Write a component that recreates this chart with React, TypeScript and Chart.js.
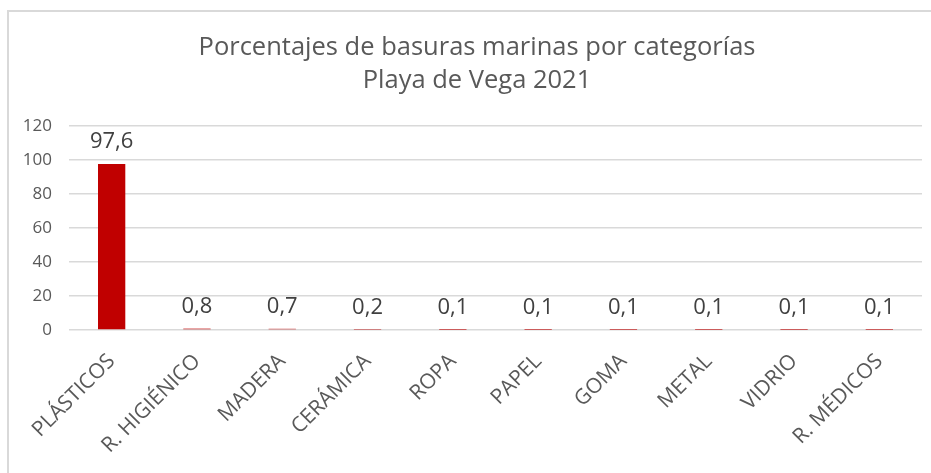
import React, { useEffect, useRef } from "react";
import { Chart, registerables } from "chart.js";

Chart.register(...registerables);

const categories = [
  "PLÁSTICOS",
  "R. HIGIÉNICO",
  "MADERA",
  "CERÁMICA",
  "ROPA",
  "PAPEL",
  "GOMA",
  "METAL",
  "VIDRIO",
  "R. MÉDICOS",
];
const percentages = [97.6, 0.8, 0.7, 0.2, 0.1, 0.1, 0.1, 0.1, 0.1, 0.1];
const titleLines = ["Porcentajes de basuras marinas por categorías", "Playa de Vega 2021"];
const yMin = 0;
const yMax = 120;
const yStep = 20;

const FONT = "'Open Sans', 'Noto Sans', sans-serif";

const dataLabelPlugin = {
  id: "dataLabels",
  afterDatasetsDraw(chart: any) {
    const ctx = chart.ctx;
    const meta = chart.getDatasetMeta(0);
    const ds = chart.data.datasets[0];
    ctx.save();
    ctx.font = `22px ${FONT}`;
    ctx.fillStyle = "#404040";
    ctx.textAlign = "center";
    ctx.textBaseline = "middle";
    meta.data.forEach((bar: any, i: number) => {
      const v = ds.data[i] as number;
      const txt = v.toFixed(1).replace(".", ",");
      ctx.fillText(txt, bar.x, bar.y - 22);
    });
    ctx.restore();
  },
};

export default function App() {
  const ref = useRef<HTMLCanvasElement | null>(null);

  useEffect(() => {
    document.body.style.overflow = "hidden";
    if (!ref.current) return;
    const chart = new Chart(ref.current, {
      type: "bar",
      data: {
        labels: categories,
        datasets: [
          {
            data: percentages,
            backgroundColor: "#C00000",
            borderWidth: 0,
            barPercentage: 0.32,
            categoryPercentage: 1,
            yAxisID: "y",
          },
        ],
      },
      plugins: [dataLabelPlugin],
      options: {
        animation: false,
        responsive: false,
        maintainAspectRatio: false,
        devicePixelRatio: 1,
        layout: { padding: { left: 10, right: -13, top: 0, bottom: 0 } },
        plugins: {
          legend: { display: false },
          tooltip: { enabled: false },
          title: {
            display: true,
            text: titleLines,
            color: "#595959",
            font: { family: FONT, size: 25.5, weight: "normal" as any, lineHeight: 1.3 },
            padding: { top: 31.5, bottom: 28.2 },
          },
        },
        scales: {
          x: {
            grid: { display: false },
            border: { display: false },
            ticks: {
              color: "#595959",
              font: { family: FONT, size: 21 },
              minRotation: 45,
              maxRotation: 45,
              autoSkip: false,
              padding: 11,
            },
            afterFit: (s: any) => {
              s.height = 143;
            },
          },
          y: {
            min: yMin,
            max: yMax,
            ticks: {
              stepSize: yStep,
              color: "#595959",
              font: { family: FONT, size: 17 },
              padding: 17,
            },
            grid: { color: "#d9d9d9", lineWidth: 1.5, drawTicks: false },
            border: { display: false },
            afterFit: (s: any) => {
              s.width = 59;
            },
          },
          yRightSpacer: {
            position: "right",
            display: true,
            min: yMin,
            max: yMax,
            ticks: { display: false },
            grid: { display: false, drawTicks: false },
            border: { display: false },
            afterFit: (s: any) => {
              s.width = 22;
            },
          },
        },
      },
    });
    return () => chart.destroy();
  }, []);

  return (
    <div style={{ position: "fixed", left: 0, top: 0, width: 931, height: 473, overflow: "hidden", background: "#fff" }}>
      <div
        style={{
          position: "absolute",
          left: 7,
          top: 10,
          width: 1000,
          height: 1000,
          border: "2px solid #d9d9d9",
        }}
      />
      <canvas ref={ref} width={931} height={473} style={{ position: "absolute", left: 0, top: 0, width: 931, height: 473 }} />
    </div>
  );
}
